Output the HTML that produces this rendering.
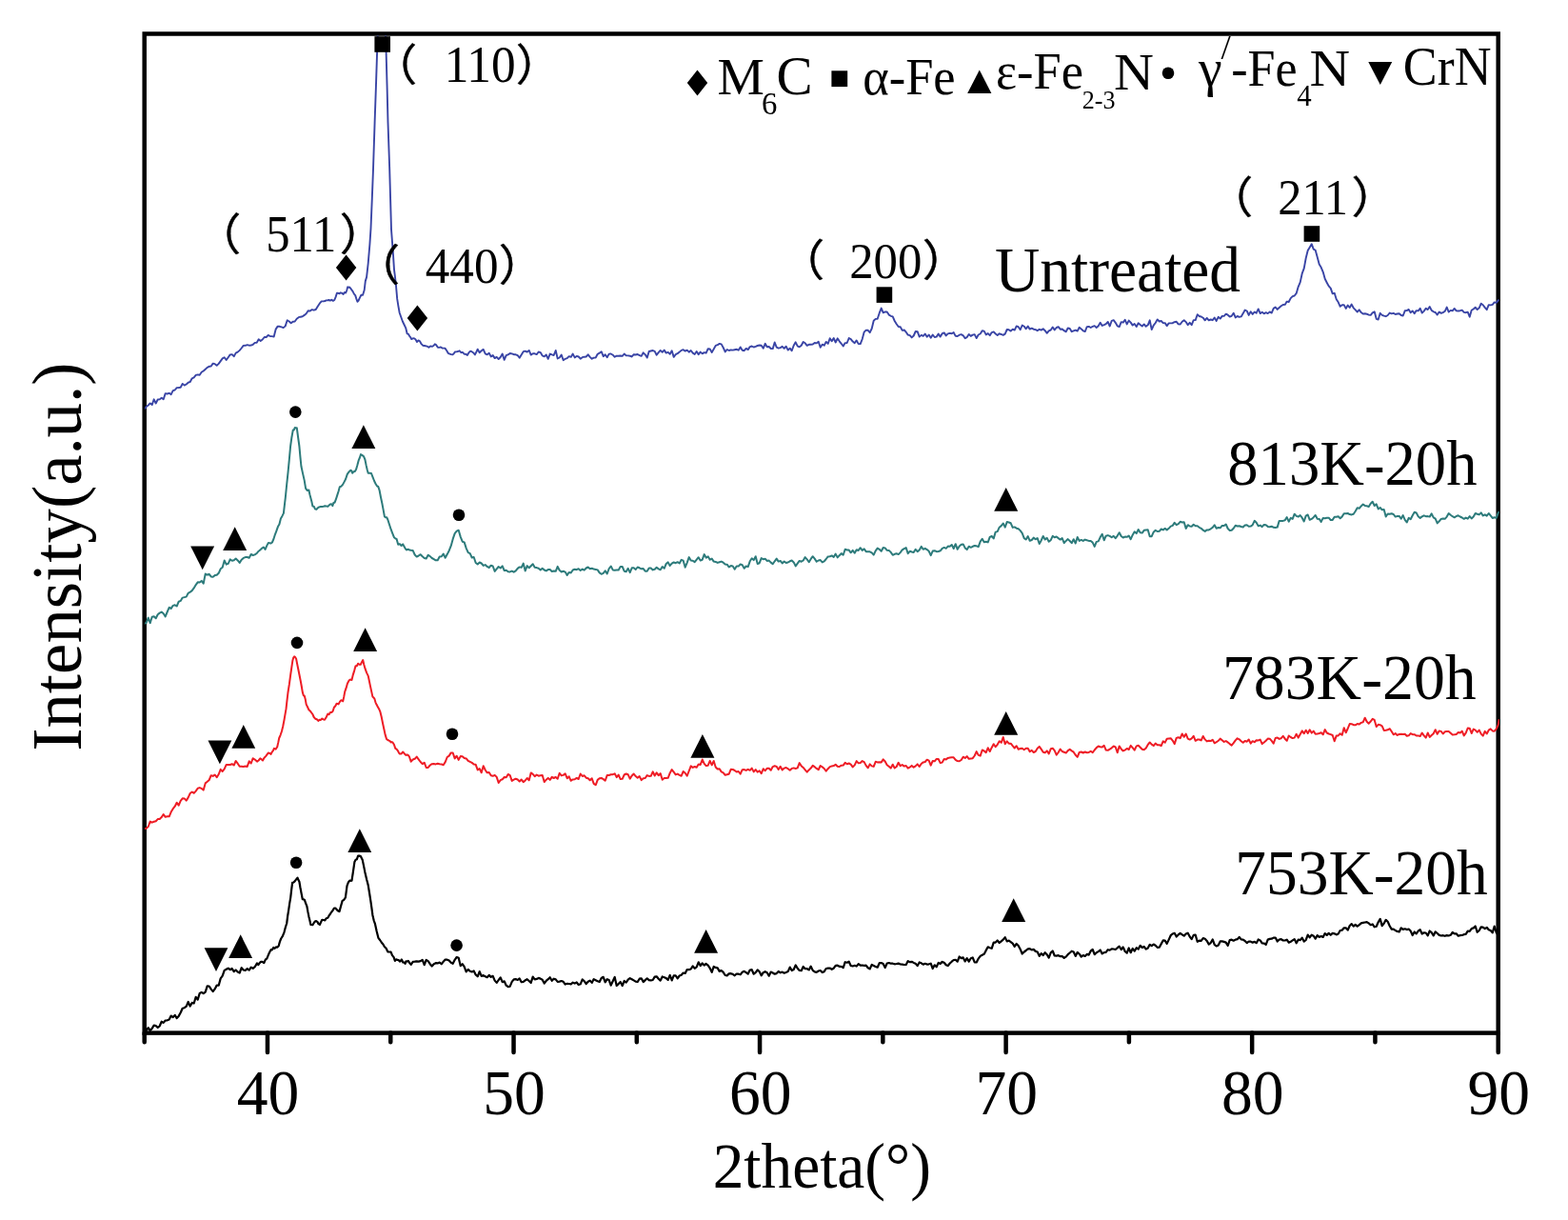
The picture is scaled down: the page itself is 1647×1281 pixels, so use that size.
<!DOCTYPE html>
<html lang="en"><head><meta charset="utf-8"><title>XRD patterns</title>
<style>
html,body{margin:0;padding:0;background:#fff;}
body{width:1647px;height:1281px;overflow:hidden;}
svg{display:block;}
text{font-family:"Liberation Serif",serif;fill:#000;}
.p{font-family:"Liberation Serif","Noto Sans CJK SC",sans-serif;stroke:#000;stroke-width:0.5px;stroke-linejoin:miter;}
.c{fill:none;stroke-linejoin:round;stroke-linecap:butt;}
</style></head><body>
<svg width="1647" height="1281" viewBox="0 0 1647 1281">
<rect width="1647" height="1281" fill="#fff"/>
<defs><clipPath id="cp"><rect x="152.0" y="37.5" width="1422.9" height="1047.1"/></clipPath></defs>

<rect x="151.7" y="35.5" width="1422.0" height="1049.1" fill="none" stroke="#000" stroke-width="4.5"/>
<path d="M151.70,1084.6v9.65 M280.97,1084.6v20.5 M410.25,1084.6v9.65 M539.52,1084.6v20.5 M668.79,1084.6v9.65 M798.06,1084.6v20.5 M927.34,1084.6v9.65 M1056.61,1084.6v20.5 M1185.88,1084.6v9.65 M1315.15,1084.6v20.5 M1444.43,1084.6v9.65 M1573.70,1084.6v20.5" stroke="#000" stroke-width="4.5" stroke-linecap="round" fill="none"/>
<g clip-path="url(#cp)">
<polyline class="c" stroke="#3944a5" stroke-width="1.9" points="151.7,429.5 153.7,427.1 155.7,425.6 157.7,423.4 159.7,425.1 161.7,419.3 163.7,423.5 165.7,419.5 167.7,419.4 169.7,417.7 171.7,419.2 173.7,413.1 175.7,413.5 177.7,412.8 179.7,414.2 181.7,410.1 183.7,409.5 185.7,407.1 187.7,407.0 189.7,406.8 191.7,402.9 193.7,404.6 195.7,403.5 197.7,401.7 199.7,401.0 201.7,397.3 203.7,396.4 205.7,393.9 207.7,393.4 209.7,393.7 211.7,390.8 213.7,389.5 215.7,387.7 217.7,385.9 219.7,384.8 221.7,384.5 223.7,381.6 225.7,382.2 227.7,383.8 229.7,381.9 231.7,379.1 233.7,376.4 235.7,375.2 237.7,378.0 239.7,375.2 241.7,372.4 243.7,372.1 245.7,374.2 247.7,370.6 249.7,369.6 251.7,367.9 253.7,365.5 255.7,362.9 257.7,362.8 259.7,362.2 261.7,362.7 263.7,362.5 265.7,361.8 267.7,359.9 269.7,359.7 271.7,356.3 273.7,358.0 275.7,356.5 277.7,354.0 279.7,354.0 281.7,351.9 283.7,353.0 285.7,353.1 287.7,353.6 289.7,345.6 291.7,342.6 293.7,342.8 295.7,343.4 297.7,344.1 299.7,342.4 301.7,336.3 303.7,337.5 305.7,339.3 307.7,337.7 309.7,337.5 311.7,334.7 313.7,333.2 315.7,332.7 317.7,332.3 319.7,330.9 321.7,329.3 323.7,326.3 325.7,326.6 327.7,325.1 329.7,325.7 331.7,325.0 333.7,321.7 335.7,318.7 337.7,316.4 340.0,316.3 341.3,316.1 342.6,315.4 344.0,315.4 345.3,315.0 346.8,315.6 348.3,314.7 349.8,315.9 351.3,315.0 352.6,311.9 353.9,307.8 355.2,307.8 356.6,308.3 357.9,307.3 359.2,307.8 360.6,309.0 361.9,307.0 363.2,307.5 364.2,305.0 365.2,301.3 366.2,301.8 367.2,301.5 368.9,303.7 370.5,305.9 371.9,308.7 373.2,310.1 374.3,313.6 375.4,316.8 376.6,315.5 377.8,312.9 379.4,309.8 381.1,309.8 382.7,304.5 383.8,295.1 385.1,290.9 386.7,276.5 388.4,256.5 389.5,239.9 390.8,208.4 392.0,177.5 393.6,128.5 394.9,91.4 396.1,54.6 397.4,19.9 398.8,20.5 400.2,20.2 401.7,19.9 403.1,19.9 404.5,20.1 405.6,54.7 406.6,91.7 407.5,128.4 409.2,177.5 410.1,209.4 411.0,241.0 412.7,263.3 414.0,283.1 414.9,290.1 415.9,299.0 417.2,313.9 418.4,321.4 419.6,328.2 421.2,332.8 422.9,337.5 424.6,341.0 426.2,344.3 427.6,350.3 428.9,350.7 430.2,353.0 431.2,354.2 432.2,356.1 433.6,355.4 434.9,355.3 436.4,356.3 438.0,359.0 439.5,357.4 441.0,358.3 442.6,361.2 444.1,362.7 445.7,363.0 447.2,363.3 448.8,363.7 450.4,364.8 452.1,363.4 453.8,363.8 455.4,363.0 456.8,361.3 458.1,362.0 459.1,363.7 460.1,364.9 461.6,364.9 463.0,364.4 464.5,365.5 465.9,365.6 467.4,365.6 469.1,368.0 470.7,370.8 472.4,371.6 474.0,372.1 475.3,372.4 476.7,371.3 478.0,369.4 479.5,369.4 481.1,369.0 482.6,368.3 484.3,370.2 485.9,369.9 487.6,371.7 489.3,371.9 490.9,372.9 492.6,370.1 493.9,368.8 495.2,368.9 496.6,369.9 497.9,371.1 498.9,372.4 500.0,370.3 501.7,366.7 503.7,370.2 505.7,368.3 507.7,366.9 509.7,371.3 511.7,372.3 513.7,370.7 515.7,374.4 517.7,373.1 519.7,376.1 521.7,374.9 523.7,377.1 525.7,375.0 527.7,371.6 529.7,377.9 531.7,373.1 533.7,372.4 535.7,371.0 537.7,371.4 539.7,372.2 541.7,372.3 543.7,373.2 545.7,375.7 547.7,372.4 549.7,369.2 551.7,368.6 553.7,369.6 555.7,367.9 557.7,372.6 559.7,371.2 561.7,371.3 563.7,372.1 565.7,369.5 567.7,370.1 569.7,373.5 571.7,374.4 573.7,372.5 575.7,376.8 577.7,371.6 579.7,372.4 581.7,373.0 583.7,368.0 585.7,376.5 587.7,375.5 589.7,372.6 591.7,378.2 593.7,376.8 595.7,376.2 597.7,374.1 599.7,374.9 601.7,371.6 603.7,375.4 605.7,373.9 607.7,374.5 609.7,376.7 611.7,375.2 613.7,374.7 615.7,374.5 617.7,372.3 619.7,374.9 621.7,376.8 623.7,375.6 625.7,375.5 627.7,371.8 629.7,370.7 631.7,369.2 633.7,374.2 635.7,372.3 637.7,375.2 639.7,371.6 641.7,371.5 643.7,372.7 645.7,374.8 647.7,373.6 649.7,373.8 651.7,373.5 653.7,373.9 655.7,371.5 657.7,373.4 659.7,373.4 661.7,373.7 663.7,374.5 665.7,372.2 667.7,372.5 669.7,372.0 671.7,373.1 673.7,373.9 675.7,370.3 677.7,372.3 679.7,375.6 681.7,369.0 683.7,368.5 685.7,368.0 687.7,368.9 689.7,372.7 691.7,370.2 693.7,367.9 695.7,369.8 697.7,367.6 699.7,370.6 701.7,369.8 703.7,371.8 705.7,368.3 707.7,374.9 709.7,372.2 711.7,371.2 713.7,369.6 715.7,367.9 717.7,367.2 719.7,368.6 721.7,367.7 723.7,369.7 725.7,368.0 727.7,370.6 729.7,372.0 731.7,369.0 733.7,372.2 735.7,369.6 737.7,371.4 739.7,370.1 741.7,370.7 743.7,366.2 745.7,366.5 747.7,369.9 749.7,366.5 751.7,362.9 753.7,362.2 755.7,360.9 757.7,361.4 759.7,365.0 761.7,369.4 763.7,367.0 765.7,368.0 767.7,367.4 769.7,367.6 771.7,367.2 773.7,366.8 775.7,367.7 777.7,364.4 779.7,367.8 781.7,368.2 783.7,365.9 785.7,367.1 787.7,364.1 789.7,363.5 791.7,364.5 793.7,363.8 795.7,363.0 797.7,362.5 799.7,362.7 801.7,365.8 803.7,360.8 805.7,364.3 807.7,364.0 809.7,366.0 811.7,366.1 813.7,359.5 815.7,364.7 817.7,365.6 819.7,365.1 821.7,363.8 823.7,365.9 825.7,363.7 827.7,367.6 829.7,365.7 831.7,368.3 833.7,362.8 835.7,359.3 837.7,363.3 839.7,364.3 841.7,362.8 843.7,359.0 845.7,360.3 847.7,362.8 849.7,361.8 851.7,361.7 853.7,361.6 855.7,360.0 857.7,360.4 859.7,358.7 861.7,364.8 863.7,361.7 865.7,362.7 867.7,358.9 869.7,360.9 871.7,355.2 873.7,358.2 875.7,355.0 877.7,359.5 879.7,355.3 881.7,358.3 883.7,360.8 885.7,363.5 887.7,360.1 889.7,360.0 891.7,355.0 893.7,356.1 895.7,358.6 897.7,360.2 899.7,357.4 901.7,361.1 903.7,361.1 905.7,356.1 907.7,348.6 909.7,346.6 911.7,346.8 913.7,349.2 915.7,345.0 917.7,336.8 919.7,334.9 921.7,334.8 923.7,328.7 925.7,323.6 927.7,328.3 929.7,327.4 931.7,327.5 933.7,330.6 935.7,331.8 937.7,332.4 939.7,337.0 941.7,340.2 943.7,343.0 945.7,343.2 947.7,346.9 949.7,346.5 951.7,348.7 953.7,351.6 955.7,352.1 957.7,354.4 959.7,352.5 961.7,348.0 963.7,348.2 965.7,353.6 967.7,351.9 969.7,352.9 971.7,350.6 973.7,353.7 975.7,351.6 977.7,354.8 979.7,351.5 981.7,354.0 983.7,353.6 985.7,350.6 987.7,353.6 989.7,350.2 991.7,349.4 993.7,352.4 995.7,350.4 997.7,349.9 999.7,350.3 1001.7,349.1 1003.7,352.9 1005.7,353.0 1007.7,351.7 1009.7,351.2 1011.7,352.3 1013.7,355.2 1015.7,354.1 1017.7,351.0 1019.7,352.9 1021.7,351.6 1023.7,351.1 1025.7,355.1 1027.7,351.5 1029.7,350.5 1031.7,347.3 1033.7,347.6 1035.7,351.4 1037.7,350.1 1039.7,352.2 1041.7,349.1 1043.7,348.4 1045.7,350.5 1047.7,352.1 1049.7,350.3 1051.7,351.0 1053.7,351.9 1055.7,350.6 1057.7,346.0 1059.7,346.3 1061.7,347.6 1063.7,345.6 1065.7,346.6 1067.7,342.5 1069.7,343.2 1071.7,346.2 1073.7,341.5 1075.7,342.7 1077.7,345.3 1079.7,342.6 1081.7,345.6 1083.7,344.7 1085.7,345.7 1087.7,346.1 1089.7,347.2 1091.7,345.8 1093.7,346.6 1095.7,345.3 1097.7,347.2 1099.7,349.8 1101.7,347.3 1103.7,346.5 1105.7,343.5 1107.7,346.4 1109.7,344.0 1111.7,343.2 1113.7,345.7 1115.7,345.5 1117.7,347.2 1119.7,348.3 1121.7,344.5 1123.7,344.9 1125.7,348.2 1127.7,347.4 1129.7,346.6 1131.7,347.6 1133.7,343.8 1135.7,345.4 1137.7,347.3 1139.7,348.1 1141.7,343.2 1143.7,342.9 1145.7,344.0 1147.7,342.8 1149.7,342.1 1151.7,344.0 1153.7,342.2 1155.7,338.7 1157.7,342.0 1159.7,341.1 1161.7,340.1 1163.7,338.0 1165.7,342.5 1167.7,336.8 1169.7,336.2 1171.7,338.8 1173.7,342.3 1175.7,343.1 1177.7,338.1 1179.7,338.6 1181.7,335.8 1183.7,340.4 1185.7,336.6 1187.7,338.6 1189.7,341.6 1191.7,340.0 1193.7,343.1 1195.7,339.3 1197.7,341.0 1199.7,342.5 1201.7,340.4 1203.7,342.8 1205.7,341.3 1207.7,336.3 1209.7,346.1 1211.7,341.6 1213.7,339.0 1215.7,335.4 1217.7,337.5 1219.7,337.0 1221.7,339.1 1223.7,339.1 1225.7,342.1 1227.7,339.4 1229.7,339.4 1231.7,339.2 1233.7,338.1 1235.7,337.7 1237.7,340.4 1239.7,340.5 1241.7,337.8 1243.7,336.2 1245.7,338.1 1247.7,341.2 1249.7,338.8 1251.7,341.2 1253.7,336.1 1255.7,336.1 1257.7,330.2 1259.7,332.0 1261.7,332.5 1263.7,333.7 1265.7,336.3 1267.7,333.9 1269.7,336.3 1271.7,335.5 1273.7,336.2 1275.7,333.6 1277.7,336.9 1279.7,332.8 1281.7,334.6 1283.7,331.9 1285.7,331.8 1287.7,329.6 1289.7,330.7 1291.7,332.5 1293.7,331.8 1295.7,328.7 1297.7,333.4 1299.7,332.0 1301.7,332.8 1303.7,332.4 1305.7,329.1 1307.7,325.5 1309.7,326.5 1311.7,330.9 1313.7,327.2 1315.7,329.9 1317.7,327.5 1319.7,328.7 1321.7,324.4 1323.7,329.1 1325.7,327.8 1327.7,329.3 1329.7,328.2 1331.7,329.1 1333.7,327.4 1335.7,328.6 1337.7,323.9 1339.7,322.5 1341.7,324.9 1343.7,323.0 1345.7,321.3 1347.7,320.0 1349.7,319.9 1351.7,316.6 1353.7,317.0 1355.7,313.1 1357.7,311.1 1359.7,310.5 1361.7,307.9 1363.7,301.1 1365.7,296.4 1367.7,287.2 1369.7,281.8 1371.7,271.0 1373.7,263.1 1375.7,259.7 1377.7,256.2 1379.7,261.6 1381.7,262.8 1383.7,270.1 1385.7,277.6 1387.7,280.8 1389.7,285.6 1391.7,292.8 1393.7,296.7 1395.7,300.4 1397.7,302.6 1399.7,308.4 1401.7,307.8 1403.7,314.3 1405.7,317.3 1407.7,321.8 1409.7,320.2 1411.7,320.1 1413.7,323.9 1415.7,320.6 1417.7,323.0 1419.7,319.6 1421.7,323.3 1423.7,325.3 1425.7,327.5 1427.7,325.3 1429.7,328.1 1431.7,329.6 1433.7,329.3 1435.7,329.7 1437.7,330.6 1439.7,330.9 1441.7,328.3 1443.7,327.3 1445.7,334.8 1447.7,335.5 1449.7,328.8 1451.7,330.9 1453.7,331.7 1455.7,332.2 1457.7,331.0 1459.7,328.5 1461.7,329.4 1463.7,328.9 1465.7,330.0 1467.7,329.5 1469.7,329.2 1471.7,331.0 1473.7,331.5 1475.7,326.3 1477.7,326.1 1479.7,324.9 1481.7,328.3 1483.7,326.4 1485.7,329.2 1487.7,326.1 1489.7,326.4 1491.7,323.8 1493.7,328.6 1495.7,326.6 1497.7,323.8 1499.7,325.1 1501.7,322.0 1503.7,325.9 1505.7,327.3 1507.7,328.0 1509.7,330.6 1511.7,327.5 1513.7,328.9 1515.7,328.1 1517.7,326.8 1519.7,322.6 1521.7,327.6 1523.7,325.9 1525.7,326.4 1527.7,323.9 1529.7,326.3 1531.7,326.5 1533.7,326.2 1535.7,325.7 1537.7,327.9 1539.7,328.2 1541.7,327.6 1543.7,332.7 1545.7,325.8 1547.7,324.5 1549.7,322.7 1551.7,325.1 1553.7,323.3 1555.7,318.7 1557.7,320.2 1559.7,322.9 1561.7,325.2 1563.7,320.2 1565.7,320.4 1567.7,319.9 1569.7,317.4 1571.7,317.9 1573.7,315.3 1574.7,314.8"/>
<polyline class="c" stroke="#2d7b7b" stroke-width="2.0" points="151.7,655.0 153.7,653.8 155.7,648.6 157.7,654.1 159.7,647.8 161.7,647.3 163.7,649.2 165.7,645.2 167.7,643.6 169.7,642.6 171.7,644.3 173.7,647.4 175.7,642.5 177.7,637.9 179.7,639.0 181.7,635.9 183.7,635.3 185.7,636.5 187.7,631.7 189.7,630.9 191.7,627.6 193.7,627.1 195.7,626.6 197.7,622.8 199.7,621.7 201.7,620.1 203.7,617.4 205.7,614.1 207.7,611.3 209.7,611.6 211.7,609.9 213.7,612.8 215.7,602.6 217.7,603.6 219.7,602.8 221.7,605.4 223.7,605.7 225.7,604.1 227.7,603.8 229.7,601.8 231.7,597.3 233.7,595.8 235.7,588.4 237.7,592.6 239.7,591.8 241.7,587.4 243.7,588.8 245.7,588.3 247.7,586.6 249.7,588.4 251.7,590.9 253.7,587.7 255.7,585.9 257.7,585.1 259.7,585.0 261.7,585.8 263.7,582.0 265.7,583.0 267.7,582.4 270.0,580.7 271.3,579.0 272.6,578.0 274.0,576.8 275.3,575.6 276.9,574.5 278.6,576.9 280.2,573.1 281.9,569.9 283.2,570.2 284.6,570.5 285.9,569.5 287.4,566.0 288.9,561.3 290.4,557.4 291.9,553.1 293.4,550.6 294.9,544.4 296.4,541.9 297.9,538.9 298.9,530.1 299.8,522.7 301.1,509.5 302.5,496.4 303.8,482.8 305.1,468.5 306.4,459.2 307.8,451.4 308.8,451.4 309.8,449.0 310.8,449.4 311.8,449.3 313.1,459.1 314.4,468.5 315.4,479.6 316.4,489.5 318.1,497.4 319.7,504.4 321.1,512.9 322.8,515.0 324.4,514.5 325.4,519.2 326.4,522.9 327.4,526.7 328.4,531.6 329.7,531.7 331.1,534.6 332.4,534.9 333.7,533.3 335.2,532.4 336.7,532.1 338.2,532.1 339.8,531.8 341.3,531.3 342.8,531.4 344.3,531.9 345.6,530.6 346.9,529.5 348.2,529.2 349.3,531.1 350.5,527.7 351.6,527.7 352.9,524.2 354.2,520.1 355.6,515.8 356.9,511.1 358.4,510.7 360.0,508.9 361.5,506.1 363.1,503.0 364.8,497.9 366.4,495.7 368.1,493.8 369.1,494.2 370.1,496.7 371.4,495.3 372.8,495.1 374.1,492.7 375.4,488.3 376.8,483.1 377.9,480.5 379.0,477.1 380.6,478.1 382.1,479.3 383.4,482.5 384.7,488.9 385.7,493.3 386.7,496.8 388.4,496.7 390.0,497.0 391.6,501.2 393.1,505.0 394.7,508.2 396.0,510.3 397.3,511.0 398.6,514.9 399.9,521.7 401.3,528.3 402.6,535.1 403.9,542.4 405.0,543.2 406.2,543.2 407.3,545.5 408.9,550.5 410.6,555.7 412.2,559.9 413.9,564.2 415.2,565.3 416.6,566.0 418.2,571.8 419.9,571.1 421.6,573.0 423.2,571.4 424.5,573.7 425.9,576.3 427.2,577.5 428.6,576.7 430.0,577.5 431.7,577.8 433.7,578.1 435.7,582.5 437.7,584.6 439.7,583.5 441.7,582.2 443.7,584.3 445.7,586.0 447.7,586.5 449.7,582.7 451.7,584.1 453.7,586.0 455.7,587.1 457.7,588.3 459.7,588.3 461.7,584.6 463.7,584.3 465.7,581.5 467.7,585.7 469.7,582.1 471.7,578.2 473.7,573.2 475.7,565.9 477.7,560.1 479.7,557.6 481.7,556.7 483.7,563.6 485.7,568.7 487.7,569.4 489.7,575.6 491.7,580.2 493.7,581.2 495.7,585.5 497.7,585.0 499.7,591.0 501.7,592.4 503.7,590.5 505.7,591.5 507.7,593.9 509.7,593.1 511.7,594.9 513.7,596.0 515.7,593.7 517.7,594.5 519.7,599.9 521.7,597.4 523.7,595.0 525.7,596.5 527.7,594.3 529.7,599.0 531.7,598.7 533.7,600.3 535.7,600.4 537.7,599.6 539.7,600.7 541.7,599.4 543.7,596.9 545.7,595.4 547.7,595.9 549.7,591.6 551.7,599.4 553.7,594.1 555.7,596.2 557.7,594.2 559.7,592.2 561.7,595.7 563.7,596.1 565.7,596.7 567.7,598.5 569.7,596.7 571.7,598.5 573.7,599.4 575.7,598.1 577.7,598.0 579.7,599.9 581.7,599.5 583.7,599.8 585.7,594.9 587.7,598.8 589.7,600.5 591.7,599.8 593.7,600.6 595.7,603.9 597.7,601.0 599.7,601.5 601.7,598.5 603.7,597.7 605.7,598.2 607.7,597.2 609.7,599.0 611.7,597.6 613.7,598.7 615.7,596.5 617.7,595.5 619.7,597.2 621.7,596.8 623.7,597.6 625.7,597.9 627.7,598.4 629.7,601.4 631.7,602.8 633.7,601.9 635.7,599.4 637.7,602.5 639.7,597.0 641.7,594.5 643.7,598.4 645.7,598.7 647.7,598.4 649.7,598.5 651.7,595.0 653.7,595.0 655.7,599.7 657.7,600.3 659.7,596.8 661.7,601.2 663.7,596.3 665.7,596.2 667.7,598.0 669.7,595.5 671.7,596.3 673.7,597.3 675.7,597.1 677.7,599.7 679.7,599.8 681.7,596.5 683.7,596.6 685.7,598.4 687.7,597.8 689.7,595.8 691.7,597.4 693.7,598.2 695.7,595.1 697.7,596.8 699.7,592.0 701.7,590.4 703.7,593.9 705.7,591.7 707.7,590.4 709.7,591.2 711.7,590.2 713.7,591.5 715.7,587.8 717.7,588.7 719.7,595.7 721.7,590.8 723.7,585.1 725.7,588.4 727.7,588.7 729.7,590.1 731.7,587.7 733.7,585.2 735.7,588.5 737.7,587.7 739.7,582.1 741.7,585.6 743.7,584.3 745.7,587.7 747.7,586.6 749.7,589.6 751.7,589.9 753.7,590.9 755.7,590.2 757.7,589.6 759.7,590.7 761.7,592.4 763.7,592.7 765.7,595.5 767.7,594.1 769.7,594.5 771.7,597.7 773.7,594.4 775.7,594.6 777.7,592.4 779.7,593.2 781.7,596.8 783.7,594.5 785.7,595.1 787.7,589.3 789.7,586.3 791.7,588.1 793.7,584.2 795.7,592.0 797.7,591.2 799.7,586.1 801.7,587.2 803.7,586.8 805.7,588.9 807.7,588.6 809.7,590.6 811.7,592.2 813.7,589.3 815.7,586.6 817.7,589.6 819.7,588.9 821.7,591.4 823.7,589.5 825.7,591.0 827.7,590.5 829.7,589.3 831.7,588.5 833.7,590.4 835.7,594.4 837.7,591.7 839.7,588.9 841.7,589.7 843.7,588.5 845.7,585.1 847.7,587.3 849.7,590.2 851.7,586.9 853.7,584.2 855.7,586.6 857.7,589.7 859.7,588.5 861.7,588.1 863.7,590.4 865.7,589.4 867.7,587.0 869.7,584.4 871.7,584.2 873.7,583.4 875.7,584.9 877.7,581.6 879.7,585.4 881.7,583.2 883.7,581.1 885.7,582.7 887.7,576.8 889.7,577.5 891.7,577.6 893.7,580.3 895.7,577.9 897.7,580.8 899.7,577.3 901.7,578.0 903.7,575.2 905.7,577.9 907.7,576.4 909.7,579.2 911.7,579.2 913.7,579.3 915.7,580.3 917.7,582.6 919.7,578.3 921.7,575.6 923.7,576.8 925.7,578.8 927.7,575.0 929.7,575.4 931.7,577.8 933.7,577.9 935.7,579.9 937.7,582.8 939.7,581.8 941.7,581.2 943.7,582.1 945.7,580.1 947.7,577.4 949.7,576.1 951.7,575.1 953.7,581.2 955.7,578.8 957.7,579.5 959.7,580.0 961.7,576.8 963.7,579.2 965.7,577.4 967.7,573.9 969.7,576.8 971.7,575.8 973.7,577.1 975.7,578.8 977.7,583.2 979.7,578.6 981.7,578.2 983.7,579.2 985.7,579.0 987.7,578.3 989.7,575.8 991.7,574.9 993.7,575.8 995.7,573.6 997.7,573.7 999.7,572.0 1001.7,576.0 1003.7,571.2 1005.7,576.8 1007.7,573.5 1009.7,571.8 1011.7,571.4 1013.7,575.4 1015.7,577.1 1017.7,573.7 1019.7,574.8 1021.7,573.8 1023.7,573.0 1025.7,573.3 1027.7,574.2 1029.7,568.6 1031.7,565.7 1033.7,569.2 1035.7,568.7 1037.7,569.4 1039.7,563.9 1041.7,563.0 1043.7,565.4 1045.7,558.6 1047.7,558.1 1049.7,553.7 1051.7,552.1 1053.7,549.5 1055.7,553.6 1057.7,548.1 1059.7,548.5 1061.7,549.3 1063.7,553.9 1065.7,553.4 1067.7,554.7 1069.7,555.2 1071.7,557.1 1073.7,559.9 1075.7,565.1 1077.7,566.5 1079.7,563.1 1081.7,567.8 1083.7,567.0 1085.7,564.6 1087.7,566.2 1089.7,565.1 1091.7,571.0 1093.7,567.4 1095.7,563.0 1097.7,566.5 1099.7,564.9 1101.7,568.7 1103.7,567.2 1105.7,562.9 1107.7,564.3 1109.7,563.5 1111.7,565.1 1113.7,566.6 1115.7,565.1 1117.7,570.1 1119.7,567.9 1121.7,566.1 1123.7,568.0 1125.7,570.2 1127.7,566.2 1129.7,570.5 1131.7,564.0 1133.7,567.9 1135.7,566.9 1137.7,567.9 1139.7,566.6 1141.7,567.3 1143.7,567.9 1145.7,568.0 1147.7,569.6 1149.7,573.9 1151.7,568.9 1153.7,568.4 1155.7,564.1 1157.7,560.8 1159.7,567.3 1161.7,562.7 1163.7,562.1 1165.7,562.9 1167.7,564.3 1169.7,562.8 1171.7,565.2 1173.7,562.6 1175.7,559.2 1177.7,563.0 1179.7,564.5 1181.7,563.6 1183.7,563.8 1185.7,562.5 1187.7,566.2 1189.7,561.7 1191.7,558.3 1193.7,560.1 1195.7,556.0 1197.7,559.2 1199.7,559.6 1201.7,556.8 1203.7,556.4 1205.7,556.3 1207.7,563.3 1209.7,563.2 1211.7,558.7 1213.7,556.8 1215.7,558.0 1217.7,557.8 1219.7,555.5 1221.7,556.4 1223.7,554.9 1225.7,556.4 1227.7,554.8 1229.7,552.6 1231.7,551.9 1233.7,548.9 1235.7,551.2 1237.7,550.2 1239.7,547.8 1241.7,548.5 1243.7,548.2 1245.7,554.9 1247.7,551.2 1249.7,552.5 1251.7,552.8 1253.7,550.8 1255.7,552.3 1257.7,552.3 1259.7,553.8 1261.7,554.8 1263.7,556.7 1265.7,557.9 1267.7,556.4 1269.7,556.4 1271.7,555.3 1273.7,553.9 1275.7,551.3 1277.7,554.8 1279.7,554.0 1281.7,554.3 1283.7,551.9 1285.7,552.0 1287.7,550.5 1289.7,555.0 1291.7,556.9 1293.7,556.7 1295.7,554.7 1297.7,551.7 1299.7,552.5 1301.7,552.2 1303.7,553.0 1305.7,553.5 1307.7,551.4 1309.7,551.3 1311.7,552.8 1313.7,552.6 1315.7,551.2 1317.7,546.8 1319.7,548.7 1321.7,552.2 1323.7,551.6 1325.7,553.1 1327.7,550.9 1329.7,551.3 1331.7,552.9 1333.7,553.2 1335.7,552.7 1337.7,553.8 1339.7,554.0 1341.7,553.6 1343.7,546.9 1345.7,547.0 1347.7,546.9 1349.7,546.3 1351.7,543.1 1353.7,547.7 1355.7,543.9 1357.7,544.9 1359.7,539.7 1361.7,541.9 1363.7,542.6 1365.7,541.0 1367.7,543.7 1369.7,547.4 1371.7,541.6 1373.7,540.5 1375.7,545.8 1377.7,544.9 1379.7,543.2 1381.7,541.0 1383.7,544.8 1385.7,544.9 1387.7,547.9 1389.7,543.9 1391.7,544.3 1393.7,543.8 1395.7,543.7 1397.7,546.0 1399.7,545.9 1401.7,542.7 1403.7,542.8 1405.7,542.3 1407.7,544.3 1409.7,542.4 1411.7,539.2 1413.7,539.2 1415.7,539.0 1417.7,540.1 1419.7,540.4 1421.7,539.7 1423.7,536.8 1425.7,533.3 1427.7,533.8 1429.7,531.4 1431.7,529.6 1433.7,530.9 1435.7,531.3 1437.7,532.1 1439.7,528.8 1441.7,526.8 1443.7,531.0 1445.7,529.4 1447.7,534.4 1449.7,533.0 1451.7,535.3 1453.7,534.9 1455.7,542.5 1457.7,539.5 1459.7,539.8 1461.7,539.3 1463.7,540.0 1465.7,542.6 1467.7,542.0 1469.7,541.9 1471.7,544.8 1473.7,541.1 1475.7,545.8 1477.7,548.5 1479.7,543.8 1481.7,545.2 1483.7,541.3 1485.7,537.7 1487.7,538.5 1489.7,542.2 1491.7,543.9 1493.7,542.4 1495.7,541.3 1497.7,542.2 1499.7,542.1 1501.7,542.6 1503.7,539.4 1505.7,543.4 1507.7,544.7 1509.7,549.4 1511.7,547.3 1513.7,544.9 1515.7,544.5 1517.7,544.8 1519.7,542.6 1521.7,539.0 1523.7,540.7 1525.7,542.2 1527.7,543.3 1529.7,542.0 1531.7,541.3 1533.7,542.5 1535.7,543.5 1537.7,544.8 1539.7,543.6 1541.7,544.7 1543.7,542.1 1545.7,544.4 1547.7,542.6 1549.7,539.0 1551.7,539.8 1553.7,540.4 1555.7,538.4 1557.7,541.5 1559.7,540.3 1561.7,541.6 1563.7,539.0 1565.7,541.3 1567.7,544.0 1569.7,543.2 1571.7,543.9 1573.7,538.5 1574.7,537.2"/>
<polyline class="c" stroke="#ee1c25" stroke-width="2.0" points="151.7,870.0 153.7,869.7 155.7,868.0 157.7,862.6 159.7,863.6 161.7,862.8 163.7,862.2 165.7,860.1 167.7,859.9 169.7,858.1 171.7,855.0 173.7,857.8 175.7,857.2 177.7,857.3 179.7,852.6 181.7,849.2 183.7,846.7 185.7,842.7 187.7,845.6 189.7,840.8 191.7,838.3 193.7,838.4 195.7,840.6 197.7,837.4 199.7,833.0 201.7,831.5 203.7,832.8 205.7,830.6 207.7,827.7 209.7,827.1 211.7,827.9 213.7,829.6 215.7,822.4 217.7,820.8 219.7,819.0 221.7,814.2 223.7,814.9 225.7,813.5 227.7,816.2 229.7,813.0 231.7,807.8 233.7,810.0 235.7,807.4 237.7,802.9 239.7,803.0 241.7,803.0 243.7,802.2 245.7,803.5 247.7,799.0 249.7,801.7 251.7,804.7 253.7,804.7 255.7,804.9 257.7,804.6 259.7,804.9 261.7,799.3 263.7,801.5 265.7,796.2 267.7,797.6 270.0,799.6 271.6,798.5 273.3,796.4 274.6,797.2 276.0,798.5 277.5,795.8 279.1,794.1 280.6,792.1 281.9,790.5 283.2,790.9 284.6,791.9 285.9,789.3 286.9,788.2 287.9,785.8 289.6,786.6 291.2,784.3 292.2,779.9 293.2,775.0 294.6,771.8 295.9,768.0 297.2,762.8 298.5,756.0 299.5,750.2 300.5,744.4 301.5,735.4 302.5,727.0 303.9,718.2 305.2,708.5 306.3,700.8 307.4,693.4 308.2,690.5 309.1,689.3 310.1,690.1 311.1,691.7 312.1,696.9 313.1,701.7 314.4,708.3 315.8,715.2 316.8,720.7 317.8,726.9 318.8,730.3 319.8,730.7 320.8,734.6 321.7,739.6 323.0,742.3 324.4,745.2 325.7,746.4 327.0,748.2 328.4,750.0 329.7,753.0 331.2,754.7 332.8,755.3 334.3,756.9 335.6,755.8 337.0,755.9 338.3,754.5 339.6,755.4 341.0,755.8 342.6,753.2 344.3,749.6 345.6,750.2 346.9,748.0 348.3,748.0 349.6,746.8 350.9,742.8 352.3,741.3 353.6,738.8 354.6,739.0 355.6,739.4 356.9,736.9 358.2,735.3 359.2,735.4 360.2,736.4 361.2,731.9 362.2,726.4 363.6,722.4 364.9,717.7 366.2,715.2 367.5,713.7 368.5,713.6 369.5,714.0 370.8,708.6 372.2,704.1 373.5,699.2 374.8,699.2 376.1,696.7 377.4,697.7 378.8,697.7 380.0,695.2 381.2,693.1 382.3,697.7 383.4,701.7 385.1,706.4 386.7,709.6 387.7,714.3 388.7,719.1 390.1,725.6 391.4,731.6 392.4,732.5 393.4,733.7 394.4,737.3 395.4,739.6 396.7,741.9 398.0,744.2 399.4,747.4 400.7,752.7 402.0,759.2 403.3,765.3 404.6,771.4 406.0,775.9 407.3,777.0 408.6,777.7 409.6,778.2 410.6,779.5 411.6,779.1 412.6,779.7 413.9,781.8 415.3,785.9 416.6,786.7 417.9,788.3 418.9,790.3 419.9,791.5 421.6,791.4 423.2,789.5 424.9,791.4 426.5,792.9 427.7,792.5 428.8,793.0 430.0,794.7 431.7,799.7 433.7,797.5 435.7,796.8 437.7,794.6 439.7,797.3 441.7,800.0 443.7,802.1 445.7,800.7 447.7,806.0 449.7,805.9 451.7,803.5 453.7,802.2 455.7,802.1 457.7,802.4 459.7,801.7 461.7,802.2 463.7,802.4 465.7,803.2 467.7,800.1 469.7,795.0 471.7,793.6 473.7,790.4 475.7,790.6 477.7,796.4 479.7,793.7 481.7,797.9 483.7,794.1 485.7,794.2 487.7,796.0 489.7,796.4 491.7,798.9 493.7,799.9 495.7,800.9 497.7,802.5 499.7,802.8 501.7,808.4 503.7,807.0 505.7,811.3 507.7,804.2 509.7,808.5 511.7,811.3 513.7,810.9 515.7,814.2 517.7,814.8 519.7,813.9 521.7,815.9 523.7,822.0 525.7,819.1 527.7,818.3 529.7,816.0 531.7,816.3 533.7,813.0 535.7,814.1 537.7,819.9 539.7,818.7 541.7,817.7 543.7,818.5 545.7,820.5 547.7,818.5 549.7,821.2 551.7,819.5 553.7,817.0 555.7,819.3 557.7,811.4 559.7,812.9 561.7,815.2 563.7,813.5 565.7,814.7 567.7,814.2 569.7,814.1 571.7,821.1 573.7,818.7 575.7,816.9 577.7,818.9 579.7,815.9 581.7,817.0 583.7,815.9 585.7,817.8 587.7,811.8 589.7,814.4 591.7,813.9 593.7,812.3 595.7,817.2 597.7,815.3 599.7,819.8 601.7,818.4 603.7,818.3 605.7,816.9 607.7,818.0 609.7,812.5 611.7,815.0 613.7,814.3 615.7,816.7 617.7,817.2 619.7,819.2 621.7,817.3 623.7,822.9 625.7,824.3 627.7,818.9 629.7,817.3 631.7,816.9 633.7,818.1 635.7,819.7 637.7,814.1 639.7,814.0 641.7,813.3 643.7,813.2 645.7,812.3 647.7,816.1 649.7,813.6 651.7,818.1 653.7,817.8 655.7,813.5 657.7,812.5 659.7,813.3 661.7,817.7 663.7,814.5 665.7,812.5 667.7,815.1 669.7,816.8 671.7,815.1 673.7,819.1 675.7,817.2 677.7,817.0 679.7,814.1 681.7,814.9 683.7,814.8 685.7,810.3 687.7,814.5 689.7,811.4 691.7,814.2 693.7,812.1 695.7,818.7 697.7,817.0 699.7,817.1 701.7,816.8 703.7,811.7 705.7,808.1 707.7,810.7 709.7,813.4 711.7,812.6 713.7,813.9 715.7,814.7 717.7,810.0 719.7,811.8 721.7,814.7 723.7,809.5 725.7,804.4 727.7,805.9 729.7,805.0 731.7,805.8 733.7,802.5 735.7,802.9 737.7,797.5 739.7,801.8 741.7,804.1 743.7,803.7 745.7,798.9 747.7,803.3 749.7,799.0 751.7,805.5 753.7,807.5 755.7,807.2 757.7,810.4 759.7,811.3 761.7,813.8 763.7,813.2 765.7,812.7 767.7,807.8 769.7,807.9 771.7,809.0 773.7,810.5 775.7,810.0 777.7,812.6 779.7,808.2 781.7,808.1 783.7,808.9 785.7,807.8 787.7,808.8 789.7,806.6 791.7,810.4 793.7,808.1 795.7,810.7 797.7,809.3 799.7,812.2 801.7,807.3 803.7,809.2 805.7,806.8 807.7,806.7 809.7,808.8 811.7,805.1 813.7,804.2 815.7,804.9 817.7,808.0 819.7,804.8 821.7,808.4 823.7,806.6 825.7,806.0 827.7,807.2 829.7,808.8 831.7,806.9 833.7,806.4 835.7,807.0 837.7,806.4 839.7,801.1 841.7,804.2 843.7,805.9 845.7,808.3 847.7,810.7 849.7,808.4 851.7,806.6 853.7,803.9 855.7,805.2 857.7,806.9 859.7,808.2 861.7,804.0 863.7,805.3 865.7,807.0 867.7,809.6 869.7,807.2 871.7,805.1 873.7,804.4 875.7,804.1 877.7,802.7 879.7,804.7 881.7,805.0 883.7,803.7 885.7,803.6 887.7,800.8 889.7,802.3 891.7,801.5 893.7,802.6 895.7,805.4 897.7,803.4 899.7,799.1 901.7,801.3 903.7,800.9 905.7,799.1 907.7,800.1 909.7,803.9 911.7,806.3 913.7,802.4 915.7,804.4 917.7,804.9 919.7,799.8 921.7,800.4 923.7,800.2 925.7,800.4 927.7,797.4 929.7,799.5 931.7,803.2 933.7,804.8 935.7,806.6 937.7,802.7 939.7,806.4 941.7,805.0 943.7,800.8 945.7,804.2 947.7,803.0 949.7,804.6 951.7,804.0 953.7,806.6 955.7,805.6 957.7,803.9 959.7,805.7 961.7,804.4 963.7,802.4 965.7,805.0 967.7,802.0 969.7,800.4 971.7,800.0 973.7,797.7 975.7,798.7 977.7,803.6 979.7,798.9 981.7,799.3 983.7,796.9 985.7,797.0 987.7,801.1 989.7,800.6 991.7,797.1 993.7,797.4 995.7,795.9 997.7,795.6 999.7,795.3 1001.7,795.3 1003.7,797.9 1005.7,799.1 1007.7,799.2 1009.7,798.0 1011.7,794.7 1013.7,796.0 1015.7,794.1 1017.7,796.8 1019.7,796.4 1021.7,796.2 1023.7,793.5 1025.7,789.1 1027.7,792.9 1029.7,793.6 1031.7,787.5 1033.7,788.5 1035.7,790.2 1037.7,785.3 1039.7,789.0 1041.7,784.9 1043.7,781.2 1045.7,784.2 1047.7,781.8 1049.7,778.2 1051.7,779.8 1053.7,774.0 1055.7,781.2 1057.7,778.4 1059.7,780.7 1061.7,780.7 1063.7,783.2 1065.7,785.5 1067.7,783.2 1069.7,786.7 1071.7,786.0 1073.7,785.7 1075.7,787.2 1077.7,785.7 1079.7,785.7 1081.7,789.2 1083.7,787.8 1085.7,790.0 1087.7,789.0 1089.7,785.8 1091.7,783.9 1093.7,786.6 1095.7,789.8 1097.7,790.4 1099.7,788.4 1101.7,791.4 1103.7,786.3 1105.7,785.7 1107.7,788.1 1109.7,792.7 1111.7,790.0 1113.7,786.5 1115.7,789.0 1117.7,789.8 1119.7,790.6 1121.7,788.1 1123.7,786.8 1125.7,788.4 1127.7,789.7 1129.7,792.8 1131.7,794.9 1133.7,790.0 1135.7,789.5 1137.7,790.5 1139.7,789.5 1141.7,790.3 1143.7,789.9 1145.7,788.8 1147.7,790.2 1149.7,787.5 1151.7,785.1 1153.7,783.5 1155.7,784.2 1157.7,784.4 1159.7,782.8 1161.7,787.6 1163.7,787.8 1165.7,786.6 1167.7,785.3 1169.7,783.5 1171.7,784.4 1173.7,790.2 1175.7,783.4 1177.7,786.5 1179.7,788.4 1181.7,787.6 1183.7,785.9 1185.7,787.0 1187.7,782.9 1189.7,785.2 1191.7,787.7 1193.7,783.4 1195.7,782.8 1197.7,784.7 1199.7,786.8 1201.7,787.3 1203.7,785.6 1205.7,781.9 1207.7,779.5 1209.7,781.6 1211.7,783.0 1213.7,780.6 1215.7,782.3 1217.7,782.3 1219.7,783.0 1221.7,778.3 1223.7,779.6 1225.7,775.7 1227.7,775.4 1229.7,775.2 1231.7,777.6 1233.7,781.1 1235.7,774.9 1237.7,774.2 1239.7,775.1 1241.7,770.5 1243.7,773.8 1245.7,770.6 1247.7,775.7 1249.7,776.6 1251.7,775.4 1253.7,772.9 1255.7,777.8 1257.7,776.6 1259.7,776.5 1261.7,777.4 1263.7,773.0 1265.7,776.4 1267.7,778.4 1269.7,777.7 1271.7,778.1 1273.7,776.7 1275.7,780.3 1277.7,779.2 1279.7,777.8 1281.7,775.6 1283.7,777.2 1285.7,778.9 1287.7,778.1 1289.7,779.4 1291.7,781.1 1293.7,782.6 1295.7,780.2 1297.7,777.4 1299.7,775.3 1301.7,776.3 1303.7,778.2 1305.7,779.8 1307.7,777.9 1309.7,778.7 1311.7,776.5 1313.7,780.6 1315.7,778.2 1317.7,779.2 1319.7,777.2 1321.7,777.4 1323.7,776.6 1325.7,781.1 1327.7,779.4 1329.7,777.7 1331.7,775.6 1333.7,775.7 1335.7,777.9 1337.7,780.6 1339.7,775.0 1341.7,774.5 1343.7,775.9 1345.7,775.2 1347.7,772.9 1349.7,775.7 1351.7,777.8 1353.7,772.5 1355.7,774.0 1357.7,775.1 1359.7,774.6 1361.7,770.8 1363.7,774.6 1365.7,771.1 1367.7,767.4 1369.7,770.2 1371.7,766.7 1373.7,769.9 1375.7,766.3 1377.7,769.6 1379.7,767.6 1381.7,770.7 1383.7,770.6 1385.7,770.0 1387.7,769.3 1389.7,771.3 1391.7,766.1 1393.7,769.5 1395.7,770.5 1397.7,771.1 1399.7,772.0 1401.7,778.2 1403.7,772.6 1405.7,772.4 1407.7,770.2 1409.7,771.8 1411.7,764.2 1413.7,769.2 1415.7,765.0 1417.7,760.0 1419.7,760.2 1421.7,761.2 1423.7,761.3 1425.7,760.0 1427.7,760.5 1429.7,758.9 1431.7,758.3 1433.7,753.7 1435.7,757.8 1437.7,759.7 1439.7,757.5 1441.7,754.8 1443.7,755.9 1445.7,763.0 1447.7,760.8 1449.7,761.2 1451.7,762.3 1453.7,766.9 1455.7,766.8 1457.7,766.3 1459.7,765.2 1461.7,768.0 1463.7,771.3 1465.7,770.1 1467.7,771.9 1469.7,771.0 1471.7,770.8 1473.7,770.9 1475.7,770.8 1477.7,772.8 1479.7,772.3 1481.7,770.1 1483.7,771.2 1485.7,771.2 1487.7,772.5 1489.7,772.4 1491.7,773.1 1493.7,769.6 1495.7,772.4 1497.7,774.6 1499.7,769.5 1501.7,773.9 1503.7,772.0 1505.7,770.2 1507.7,766.2 1509.7,770.8 1511.7,767.4 1513.7,767.9 1515.7,770.5 1517.7,768.3 1519.7,768.1 1521.7,768.0 1523.7,769.7 1525.7,771.4 1527.7,771.2 1529.7,770.9 1531.7,769.1 1533.7,769.5 1535.7,767.6 1537.7,772.4 1539.7,769.7 1541.7,764.5 1543.7,764.7 1545.7,770.0 1547.7,765.6 1549.7,766.6 1551.7,768.8 1553.7,766.6 1555.7,770.6 1557.7,772.6 1559.7,767.8 1561.7,770.4 1563.7,766.7 1565.7,765.4 1567.7,767.4 1569.7,767.7 1571.7,765.4 1573.7,761.1 1574.7,755.2"/>
<polyline class="c" stroke="#000" stroke-width="2.2" points="151.7,1081.0 153.7,1082.0 155.7,1079.2 157.7,1082.0 159.7,1079.9 161.7,1076.5 163.7,1077.1 165.7,1078.8 167.7,1077.3 169.7,1072.7 171.7,1073.9 173.7,1071.5 175.7,1071.3 177.7,1070.5 179.7,1066.6 181.7,1068.1 183.7,1065.9 185.7,1069.1 187.7,1066.9 189.7,1063.3 191.7,1058.7 193.7,1058.2 195.7,1056.7 197.7,1052.0 199.7,1056.6 201.7,1052.9 203.7,1053.5 205.7,1046.8 207.7,1049.6 209.7,1043.0 211.7,1041.9 213.7,1043.2 215.7,1041.6 217.7,1035.4 219.7,1035.5 221.7,1038.6 223.7,1041.0 225.7,1038.4 227.7,1034.5 229.7,1034.7 231.7,1027.4 233.7,1024.7 235.7,1018.9 237.7,1017.8 239.7,1016.7 241.7,1018.2 243.7,1017.0 245.7,1020.2 247.7,1018.5 249.7,1020.6 251.7,1021.5 253.7,1016.1 255.7,1018.5 257.7,1018.9 259.7,1017.2 261.7,1018.7 263.7,1015.6 265.7,1016.8 267.7,1015.2 270.0,1011.4 271.3,1013.1 272.7,1011.1 274.0,1009.8 275.6,1009.9 277.3,1011.2 278.8,1007.6 280.4,1006.3 281.9,1002.6 283.2,999.7 284.6,997.2 285.9,997.3 287.2,995.0 288.6,995.9 289.9,994.4 291.2,994.6 292.6,993.5 293.9,988.9 295.2,985.5 296.9,982.9 298.5,978.8 299.9,973.5 301.2,969.5 302.2,961.5 303.2,955.4 304.2,948.4 305.2,942.6 306.1,934.7 307.1,926.9 308.4,926.5 309.8,925.1 311.1,923.4 312.5,921.7 313.4,923.9 314.4,925.7 315.4,931.8 316.4,937.1 317.8,944.2 318.8,944.4 319.8,944.7 321.1,948.3 322.4,951.7 323.4,957.4 324.4,962.4 325.4,966.4 326.4,970.9 327.4,971.0 328.4,971.2 329.7,969.0 331.0,967.4 332.2,967.2 333.4,967.9 334.6,970.1 335.9,970.9 337.1,968.2 338.3,965.8 339.8,966.0 341.3,966.3 342.8,964.2 344.3,963.8 345.6,961.4 347.0,959.5 348.3,957.5 349.6,955.9 351.0,953.5 352.3,953.5 353.7,955.1 355.1,956.4 356.5,957.1 358.1,951.3 359.6,945.9 361.2,944.8 362.9,942.4 364.5,930.2 366.0,926.2 367.5,924.5 368.5,924.8 369.5,924.7 370.9,915.3 372.4,905.1 373.6,902.8 374.8,902.3 376.1,898.6 377.4,898.6 378.8,899.1 379.8,901.1 380.8,903.1 382.1,909.4 383.4,915.9 385.1,923.3 386.7,929.4 388.1,938.0 389.4,946.3 390.4,953.4 391.4,961.0 392.7,966.6 394.0,970.2 395.7,977.9 397.4,984.8 399.1,987.0 400.7,989.5 402.4,991.5 404.0,994.3 405.6,995.8 407.3,999.3 408.9,999.5 410.6,999.7 412.0,1003.1 413.5,1004.9 414.9,1008.9 416.1,1007.3 417.4,1007.9 418.6,1008.1 420.2,1009.6 421.9,1007.5 423.2,1010.5 424.6,1010.7 425.6,1011.9 426.5,1009.3 427.7,1009.5 428.8,1009.0 430.0,1010.7 431.7,1012.8 433.7,1009.9 435.7,1009.7 437.7,1009.4 439.7,1009.6 441.7,1009.1 443.7,1007.8 445.7,1013.2 447.7,1008.0 449.7,1009.1 451.7,1012.2 453.7,1014.5 455.7,1012.2 457.7,1011.2 459.7,1011.4 461.7,1010.5 463.7,1012.3 465.7,1009.7 467.7,1007.6 469.7,1007.7 471.7,1008.5 473.7,1010.7 475.7,1011.8 477.7,1007.8 479.7,1005.0 481.7,1005.8 483.7,1014.1 485.7,1012.2 487.7,1015.2 489.7,1020.4 491.7,1017.9 493.7,1019.8 495.7,1020.4 497.7,1019.5 499.7,1023.5 501.7,1025.3 503.7,1020.1 505.7,1024.9 507.7,1024.1 509.7,1025.3 511.7,1026.2 513.7,1023.9 515.7,1025.9 517.7,1024.8 519.7,1029.6 521.7,1031.9 523.7,1029.0 525.7,1026.4 527.7,1031.2 529.7,1030.3 531.7,1034.7 533.7,1036.2 535.7,1035.6 537.7,1030.9 539.7,1028.3 541.7,1028.1 543.7,1029.0 545.7,1027.4 547.7,1031.2 549.7,1030.8 551.7,1029.3 553.7,1028.2 555.7,1030.0 557.7,1031.9 559.7,1025.6 561.7,1028.4 563.7,1027.9 565.7,1026.9 567.7,1027.6 569.7,1028.7 571.7,1032.6 573.7,1029.9 575.7,1028.2 577.7,1026.2 579.7,1029.8 581.7,1027.7 583.7,1028.4 585.7,1030.9 587.7,1030.6 589.7,1030.0 591.7,1030.8 593.7,1033.6 595.7,1032.8 597.7,1033.0 599.7,1033.3 601.7,1031.7 603.7,1032.6 605.7,1031.5 607.7,1034.0 609.7,1033.3 611.7,1028.4 613.7,1030.2 615.7,1033.0 617.7,1030.8 619.7,1029.6 621.7,1031.9 623.7,1028.1 625.7,1029.2 627.7,1030.3 629.7,1030.9 631.7,1027.0 633.7,1025.8 635.7,1031.3 637.7,1028.2 639.7,1029.1 641.7,1034.6 643.7,1030.3 645.7,1025.9 647.7,1034.9 649.7,1033.1 651.7,1031.0 653.7,1035.1 655.7,1030.0 657.7,1031.6 659.7,1028.7 661.7,1027.1 663.7,1028.2 665.7,1029.4 667.7,1030.7 669.7,1031.0 671.7,1027.7 673.7,1027.3 675.7,1031.1 677.7,1029.1 679.7,1027.3 681.7,1029.1 683.7,1029.4 685.7,1029.0 687.7,1025.6 689.7,1025.3 691.7,1027.8 693.7,1029.6 695.7,1025.5 697.7,1026.2 699.7,1027.1 701.7,1028.9 703.7,1023.9 705.7,1029.4 707.7,1024.4 709.7,1024.3 711.7,1027.3 713.7,1024.5 715.7,1023.8 717.7,1021.5 719.7,1022.0 721.7,1018.0 723.7,1018.1 725.7,1017.5 727.7,1014.4 729.7,1016.8 731.7,1015.4 733.7,1010.3 735.7,1014.1 737.7,1011.4 739.7,1013.5 741.7,1012.0 743.7,1013.7 745.7,1016.6 747.7,1020.8 749.7,1014.9 751.7,1015.9 753.7,1016.4 755.7,1019.9 757.7,1019.0 759.7,1020.9 761.7,1024.0 763.7,1024.4 765.7,1022.4 767.7,1022.2 769.7,1022.9 771.7,1024.3 773.7,1022.5 775.7,1022.7 777.7,1023.3 779.7,1020.7 781.7,1019.8 783.7,1021.2 785.7,1022.6 787.7,1018.5 789.7,1018.2 791.7,1022.7 793.7,1021.1 795.7,1018.4 797.7,1020.3 799.7,1024.3 801.7,1021.2 803.7,1020.2 805.7,1021.2 807.7,1024.7 809.7,1020.6 811.7,1021.5 813.7,1022.7 815.7,1022.1 817.7,1020.0 819.7,1021.3 821.7,1020.6 823.7,1021.7 825.7,1021.0 827.7,1020.1 829.7,1015.6 831.7,1019.0 833.7,1018.0 835.7,1013.4 837.7,1016.8 839.7,1019.0 841.7,1019.2 843.7,1015.0 845.7,1017.2 847.7,1017.2 849.7,1018.4 851.7,1014.6 853.7,1018.9 855.7,1020.4 857.7,1020.8 859.7,1019.5 861.7,1019.0 863.7,1021.1 865.7,1020.2 867.7,1017.0 869.7,1016.7 871.7,1016.5 873.7,1017.8 875.7,1016.7 877.7,1013.8 879.7,1013.7 881.7,1014.8 883.7,1014.9 885.7,1016.1 887.7,1010.2 889.7,1010.7 891.7,1009.7 893.7,1014.0 895.7,1014.5 897.7,1013.8 899.7,1014.6 901.7,1012.1 903.7,1013.7 905.7,1013.5 907.7,1013.8 909.7,1013.7 911.7,1016.2 913.7,1017.4 915.7,1012.9 917.7,1013.9 919.7,1014.9 921.7,1015.7 923.7,1011.2 925.7,1011.1 927.7,1012.0 929.7,1016.1 931.7,1011.5 933.7,1011.0 935.7,1011.7 937.7,1011.7 939.7,1012.3 941.7,1012.0 943.7,1011.6 945.7,1012.5 947.7,1012.7 949.7,1013.0 951.7,1013.0 953.7,1009.1 955.7,1010.2 957.7,1009.8 959.7,1010.9 961.7,1011.7 963.7,1014.1 965.7,1010.4 967.7,1011.3 969.7,1012.7 971.7,1011.8 973.7,1012.6 975.7,1012.3 977.7,1011.7 979.7,1017.0 981.7,1013.3 983.7,1015.3 985.7,1010.9 987.7,1011.9 989.7,1009.9 991.7,1010.8 993.7,1013.3 995.7,1014.1 997.7,1011.5 999.7,1009.7 1001.7,1008.0 1003.7,1007.8 1005.7,1009.7 1007.7,1004.5 1009.7,1006.1 1011.7,1005.4 1013.7,1009.4 1015.7,1006.1 1017.7,1009.6 1019.7,1006.3 1021.7,1005.5 1023.7,1010.4 1025.7,1010.5 1027.7,1006.6 1029.7,1003.9 1031.7,1002.7 1033.7,1001.8 1035.7,997.9 1037.7,994.3 1039.7,995.2 1041.7,995.8 1043.7,989.7 1045.7,989.6 1047.7,987.5 1049.7,990.0 1051.7,988.3 1053.7,986.6 1055.7,984.2 1057.7,988.4 1059.7,987.6 1061.7,989.1 1063.7,990.7 1065.7,993.8 1067.7,991.0 1069.7,993.0 1071.7,996.7 1073.7,1001.5 1075.7,999.5 1077.7,998.0 1079.7,996.4 1081.7,996.2 1083.7,997.4 1085.7,996.9 1087.7,998.9 1089.7,999.5 1091.7,1003.9 1093.7,1001.1 1095.7,1003.0 1097.7,1000.2 1099.7,1002.2 1101.7,1005.6 1103.7,1000.3 1105.7,998.5 1107.7,1003.5 1109.7,1003.6 1111.7,1003.2 1113.7,1004.2 1115.7,1004.1 1117.7,1005.9 1119.7,1004.6 1121.7,1002.2 1123.7,1000.5 1125.7,998.7 1127.7,999.5 1129.7,1003.9 1131.7,999.9 1133.7,1001.7 1135.7,1004.5 1137.7,1003.1 1139.7,1004.0 1141.7,1001.9 1143.7,1002.6 1145.7,998.5 1147.7,997.0 1149.7,1002.2 1151.7,1000.2 1153.7,999.1 1155.7,997.5 1157.7,1001.4 1159.7,1000.1 1161.7,999.8 1163.7,997.2 1165.7,997.7 1167.7,996.4 1169.7,996.5 1171.7,997.0 1173.7,995.2 1175.7,993.7 1177.7,997.0 1179.7,994.5 1181.7,999.0 1183.7,1000.7 1185.7,995.5 1187.7,1000.2 1189.7,995.9 1191.7,998.7 1193.7,995.2 1195.7,996.6 1197.7,992.8 1199.7,994.9 1201.7,993.9 1203.7,996.6 1205.7,995.5 1207.7,991.8 1209.7,993.2 1211.7,991.5 1213.7,992.7 1215.7,994.8 1217.7,994.7 1219.7,991.1 1221.7,987.4 1223.7,987.6 1225.7,990.9 1227.7,986.6 1229.7,982.2 1231.7,980.5 1233.7,979.8 1235.7,983.5 1237.7,981.4 1239.7,979.8 1241.7,981.3 1243.7,982.7 1245.7,980.5 1247.7,979.7 1249.7,983.5 1251.7,986.1 1253.7,981.9 1255.7,981.7 1257.7,988.8 1259.7,987.7 1261.7,987.9 1263.7,985.1 1265.7,985.8 1267.7,987.9 1269.7,991.5 1271.7,990.1 1273.7,986.4 1275.7,991.9 1277.7,993.5 1279.7,992.5 1281.7,988.4 1283.7,988.4 1285.7,988.9 1287.7,989.6 1289.7,992.8 1291.7,987.1 1293.7,986.7 1295.7,987.7 1297.7,986.6 1299.7,986.2 1301.7,983.9 1303.7,986.4 1305.7,986.7 1307.7,988.0 1309.7,990.1 1311.7,988.5 1313.7,988.6 1315.7,989.7 1317.7,988.8 1319.7,990.2 1321.7,986.5 1323.7,987.4 1325.7,990.4 1327.7,990.5 1329.7,991.8 1331.7,986.6 1333.7,985.9 1335.7,985.7 1337.7,984.6 1339.7,984.5 1341.7,988.6 1343.7,986.5 1345.7,986.1 1347.7,987.5 1349.7,987.5 1351.7,986.7 1353.7,989.7 1355.7,988.8 1357.7,987.4 1359.7,986.1 1361.7,990.3 1363.7,986.7 1365.7,987.1 1367.7,984.7 1369.7,988.6 1371.7,987.0 1373.7,981.6 1375.7,984.4 1377.7,981.7 1379.7,982.7 1381.7,985.7 1383.7,982.1 1385.7,983.9 1387.7,983.0 1389.7,983.9 1391.7,980.1 1393.7,981.9 1395.7,979.9 1397.7,981.8 1399.7,979.9 1401.7,980.3 1403.7,981.4 1405.7,980.5 1407.7,977.0 1409.7,976.7 1411.7,974.3 1413.7,974.3 1415.7,976.6 1417.7,972.0 1419.7,970.1 1421.7,972.7 1423.7,970.9 1425.7,972.6 1427.7,971.1 1429.7,969.4 1431.7,968.9 1433.7,968.5 1435.7,968.2 1437.7,969.4 1439.7,971.2 1441.7,970.4 1443.7,973.3 1445.7,972.7 1447.7,968.2 1449.7,964.9 1451.7,972.1 1453.7,969.5 1455.7,965.9 1457.7,967.8 1459.7,972.2 1461.7,975.6 1463.7,975.7 1465.7,976.9 1467.7,977.9 1469.7,978.5 1471.7,974.3 1473.7,975.9 1475.7,975.3 1477.7,976.1 1479.7,975.5 1481.7,977.6 1483.7,982.0 1485.7,978.5 1487.7,980.4 1489.7,977.5 1491.7,976.2 1493.7,980.5 1495.7,979.3 1497.7,979.5 1499.7,982.4 1501.7,977.5 1503.7,979.2 1505.7,982.4 1507.7,978.3 1509.7,980.0 1511.7,981.9 1513.7,982.5 1515.7,982.2 1517.7,982.8 1519.7,982.1 1521.7,982.5 1523.7,981.8 1525.7,979.0 1527.7,980.4 1529.7,980.3 1531.7,982.7 1533.7,982.1 1535.7,982.0 1537.7,981.2 1539.7,980.9 1541.7,977.7 1543.7,977.8 1545.7,975.1 1547.7,974.4 1549.7,972.5 1551.7,978.8 1553.7,977.0 1555.7,973.4 1557.7,973.6 1559.7,975.1 1561.7,973.8 1563.7,976.2 1565.7,977.0 1567.7,979.4 1569.7,972.6 1571.7,979.1 1573.7,982.1 1574.7,985.0"/>
</g>

<text transform="translate(281.57,1170.12) scale(1.3116,1.3659)" font-size="50" text-anchor="middle">40</text>
<text transform="translate(540.12,1170.12) scale(1.3116,1.3659)" font-size="50" text-anchor="middle">50</text>
<text transform="translate(798.66,1170.12) scale(1.3116,1.3659)" font-size="50" text-anchor="middle">60</text>
<text transform="translate(1057.21,1170.12) scale(1.3116,1.3659)" font-size="50" text-anchor="middle">70</text>
<text transform="translate(1315.75,1170.12) scale(1.3116,1.3659)" font-size="50" text-anchor="middle">80</text>
<text transform="translate(1574.30,1170.12) scale(1.3116,1.3659)" font-size="50" text-anchor="middle">90</text>
<text transform="translate(748.69,1247.17) scale(1.3069,1.3460)" font-size="50">2theta(°)</text>
<text transform="translate(1045.09,305.92) scale(1.3090,1.3540)" font-size="50">Untreated</text>
<text transform="translate(1289.24,509.22) scale(1.2938,1.3540)" font-size="50">813K-20h</text>
<text transform="translate(1283.92,734.12) scale(1.3161,1.3540)" font-size="50">783K-20h</text>
<text transform="translate(1297.25,939.22) scale(1.3090,1.3540)" font-size="50">753K-20h</text>
<g><text class="p" transform="translate(390.45,84.56) scale(0.9538,0.9137)" font-size="50">（</text><text transform="translate(466.64,86.46) scale(1.0254,1.0815)" font-size="50">110</text><text class="p" transform="translate(541.75,84.56) scale(0.9538,0.9137)" font-size="50">）</text></g>
<g><text class="p" transform="translate(205.45,261.84) scale(0.9538,0.9179)" font-size="50">（</text><text transform="translate(279.32,264.36) scale(1.0119,1.0866)" font-size="50">511</text><text class="p" transform="translate(356.75,261.84) scale(0.9538,0.9179)" font-size="50">）</text></g>
<g><text class="p" transform="translate(372.82,295.31) scale(0.9462,0.9032)" font-size="50">（</text><text transform="translate(446.73,297.47) scale(1.0248,1.0667)" font-size="50">440</text><text class="p" transform="translate(523.87,295.31) scale(0.9462,0.9032)" font-size="50">）</text></g>
<g><text class="p" transform="translate(818.55,289.58) scale(0.9538,0.9095)" font-size="50">（</text><text transform="translate(892.17,292.46) scale(1.0161,1.0756)" font-size="50">200</text><text class="p" transform="translate(968.84,289.58) scale(0.9615,0.9095)" font-size="50">）</text></g>
<g><text class="p" transform="translate(1268.55,223.67) scale(0.9538,0.9116)" font-size="50">（</text><text transform="translate(1342.18,224.80) scale(1.0110,1.0667)" font-size="50">211</text><text class="p" transform="translate(1419.52,223.67) scale(0.9692,0.9116)" font-size="50">）</text></g>
<g><text transform="translate(753.51,99.10) scale(1.1114,1.1084)" font-size="50">M</text><text transform="translate(799.99,120.06) scale(0.6558,0.6776)" font-size="50">6</text><text transform="translate(815.52,99.14) scale(1.1409,1.1284)" font-size="50">C</text></g>
<text transform="translate(906.16,99.15) scale(1.0503,1.1098)" font-size="50">α-Fe</text>
<g><text transform="translate(1046.07,93.45) scale(1.0481,1.1068)" font-size="50">ε-Fe</text><text transform="translate(1136.76,113.83) scale(0.5211,0.5433)" font-size="50">2-3</text><text transform="translate(1169.95,93.70) scale(1.1615,1.1145)" font-size="50">N</text></g>
<g><text transform="translate(1258.88,90.19) scale(1.1153,1.0866)" font-size="50">γ</text><text transform="translate(1282.50,61.63) scale(0.7345,0.7313)" font-size="50">/</text><text transform="translate(1293.18,89.96) scale(1.0419,1.0887)" font-size="50">-Fe</text><text transform="translate(1362.34,110.80) scale(0.6170,0.6515)" font-size="50">4</text><text transform="translate(1375.53,90.40) scale(1.1793,1.1023)" font-size="50">N</text></g>
<text transform="translate(1473.85,88.92) scale(1.0759,1.1522)" font-size="50">CrN</text>
<text transform="translate(85.00,788.75) rotate(-90) scale(1.4557,1.4700)" font-size="50">Intensity(a.u.)</text>
<g fill="#000"><rect x="393.4" y="38.2" width="16.6" height="16.6"/><rect x="920.6" y="301.3" width="16.6" height="16.6"/><rect x="1369.6" y="237.2" width="16.6" height="16.6"/><polygon points="363.6,267.4 374.3,280.9 363.6,294.4 352.9,280.9"/><polygon points="438.4,320.5 449.1,334.0 438.4,347.5 427.7,334.0"/><circle cx="310.3" cy="432.6" r="6.3"/><polygon points="381.9,446.3 369.4,471.0 394.3,471.0"/><circle cx="482.0" cy="540.7" r="6.3"/><polygon points="212.7,598.2 200.2,573.4 225.1,573.4"/><polygon points="246.7,553.2 234.2,577.9 259.1,577.9"/><polygon points="1056.7,512.1 1044.2,536.8 1069.2,536.8"/><circle cx="312.0" cy="674.9" r="6.3"/><polygon points="383.6,659.3 371.2,684.0 396.1,684.0"/><circle cx="475.0" cy="770.7" r="6.3"/><polygon points="230.9,802.3 218.5,777.5 243.3,777.5"/><polygon points="255.8,761.1 243.4,785.8 268.2,785.8"/><polygon points="737.9,771.1 725.4,795.8 750.4,795.8"/><polygon points="1056.7,747.1 1044.2,771.8 1069.2,771.8"/><circle cx="311.1" cy="905.7" r="6.3"/><polygon points="377.8,870.2 365.4,894.9 390.2,894.9"/><circle cx="479.6" cy="992.6" r="6.3"/><polygon points="227.0,1020.0 214.6,995.2 239.4,995.2"/><polygon points="252.7,981.3 240.2,1006.0 265.1,1006.0"/><polygon points="741.6,976.0 729.1,1000.7 754.1,1000.7"/><polygon points="1064.7,943.2 1052.2,967.9 1077.2,967.9"/><polygon points="732.5,73.4 743.2,86.9 732.5,100.4 721.8,86.9"/><rect x="873.4" y="74.3" width="16.8" height="16.8"/><polygon points="1028.8,73.4 1016.2,97.9 1041.4,97.9"/><circle cx="1227.0" cy="76.8" r="6.3"/><polygon points="1449.8,89.1 1437.3,65.0 1462.2,65.0"/></g>
</svg></body></html>
